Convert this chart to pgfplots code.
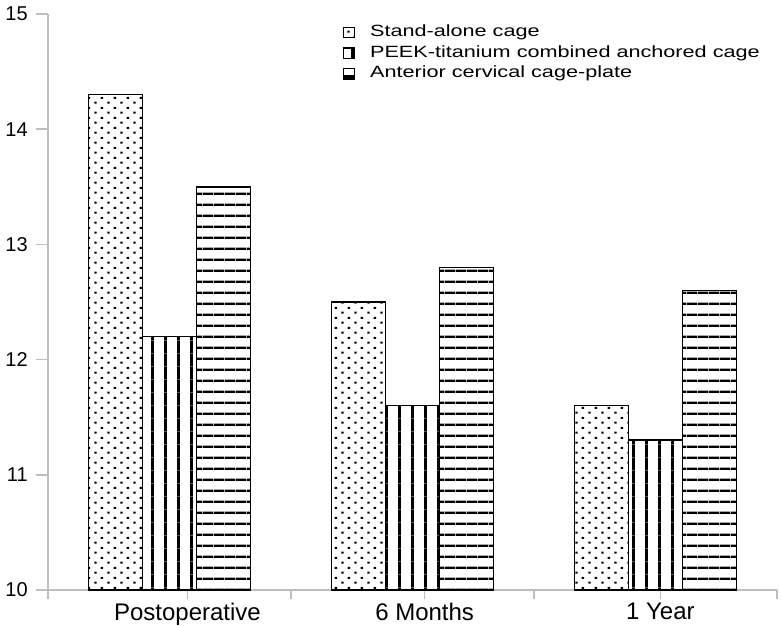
\documentclass[border=0pt]{standalone}
\usepackage{fontspec}
\setmainfont{Liberation Sans}
\newfontfamily\legfont[FakeStretch=1.33]{Liberation Sans}
\usepackage{pgfplots}
\pgfplotsset{compat=1.18}
\usetikzlibrary{patterns.meta}
\definecolor{axgray}{RGB}{190,190,190}

\pgfdeclarepattern{
  name=mydots, type=uncolored,
  bottom left={\pgfpoint{0pt}{0pt}}, top right={\pgfpoint{10pt}{7.8pt}},
  tile size={\pgfpoint{10pt}{7.8pt}},
  code={\pgfpathrectangle{\pgfpoint{1pt}{1pt}}{\pgfpoint{1.9pt}{1.6pt}}
        \pgfpathrectangle{\pgfpoint{6pt}{4.9pt}}{\pgfpoint{1.9pt}{1.6pt}}
        \pgfusepath{fill}}}
\pgfdeclarepattern{
  name=myvlines, type=uncolored,
  bottom left={\pgfpoint{0pt}{0pt}}, top right={\pgfpoint{10pt}{10pt}},
  tile size={\pgfpoint{10pt}{10pt}},
  code={\pgfpathrectangle{\pgfpoint{4pt}{0pt}}{\pgfpoint{2.2pt}{10pt}}
        \pgfusepath{fill}}}
\pgfdeclarepattern{
  name=myhlines, type=uncolored,
  bottom left={\pgfpoint{0pt}{0pt}}, top right={\pgfpoint{8pt}{8pt}},
  tile size={\pgfpoint{8pt}{8pt}},
  code={\pgfpathrectangle{\pgfpoint{0pt}{3.1pt}}{\pgfpoint{8pt}{1.9pt}}
        \pgfusepath{fill}}}

\pgfplotsset{
  mybar/.style={draw=black, line width=1.2pt, pattern=#1, pattern color=black,
    legend image code/.code={\draw[##1, line width=0.9pt] (0pt,-3.8pt) rectangle (8.2pt,3.8pt);}},
}

\begin{document}
\begin{tikzpicture}
\begin{axis}[
  scale only axis, width=546.75pt, height=432pt,
  xmin=-0.5, xmax=2.5, ymin=10, ymax=15,
  ybar=0pt, bar width=0.222,
  axis x line=bottom, axis y line=left,
  axis line style={-, draw=axgray, line width=1.1pt},
  ytick={10,11,12,13,14,15},
  tick align=outside,
  major tick length=9pt,
  tick style={draw=axgray, line width=1.1pt},
  tick label style={font=\fontsize{15}{17}\selectfont},
  xtick={-0.5,0.5,1.5,2.5}, xticklabels={},
  xtick style={/pgfplots/major tick length=6.75pt},
  extra x ticks={0.074,1.05,2.02},
  extra x tick labels={Postoperative,6 Months,1 Year},
  extra x tick style={major tick length=0pt,
    tick label style={font=\fontsize{18}{20}\selectfont, inner sep=0pt, anchor=north, yshift=-9.75pt}},
  yticklabel style={inner sep=0pt, xshift=-6pt},
  /pgf/number format/assume math mode=true,
  legend style={legend cell align=left, draw=none, fill=none,
    at={(rel axis cs:0.4047,0.985)}, anchor=north west,
    font=\legfont\fontsize{12.2}{14}\selectfont, inner sep=0pt,
    row sep=1.6pt,
    nodes={inner sep=1pt, text height=9pt, text depth=3pt},
    /tikz/every odd column/.append style={column sep=10pt}},
]
\coordinate (O) at (rel axis cs:0,0);
\addplot[mybar=mydots] coordinates {(0,14.3) (1,12.5) (2,11.6)};
\addplot[mybar=myvlines] coordinates {(0,12.2) (1,11.6) (2,11.3)};
\addplot[mybar=myhlines] coordinates {(0,13.5) (1,12.8) (2,12.6)};
\legend{Stand-alone cage, PEEK-titanium combined anchored cage, Anterior cervical cage-plate}
\end{axis}
\pgfresetboundingbox
\path[use as bounding box] (O) ++(-36pt,-27pt) rectangle ++(585.75pt,469.5pt);
\end{tikzpicture}
\end{document}
